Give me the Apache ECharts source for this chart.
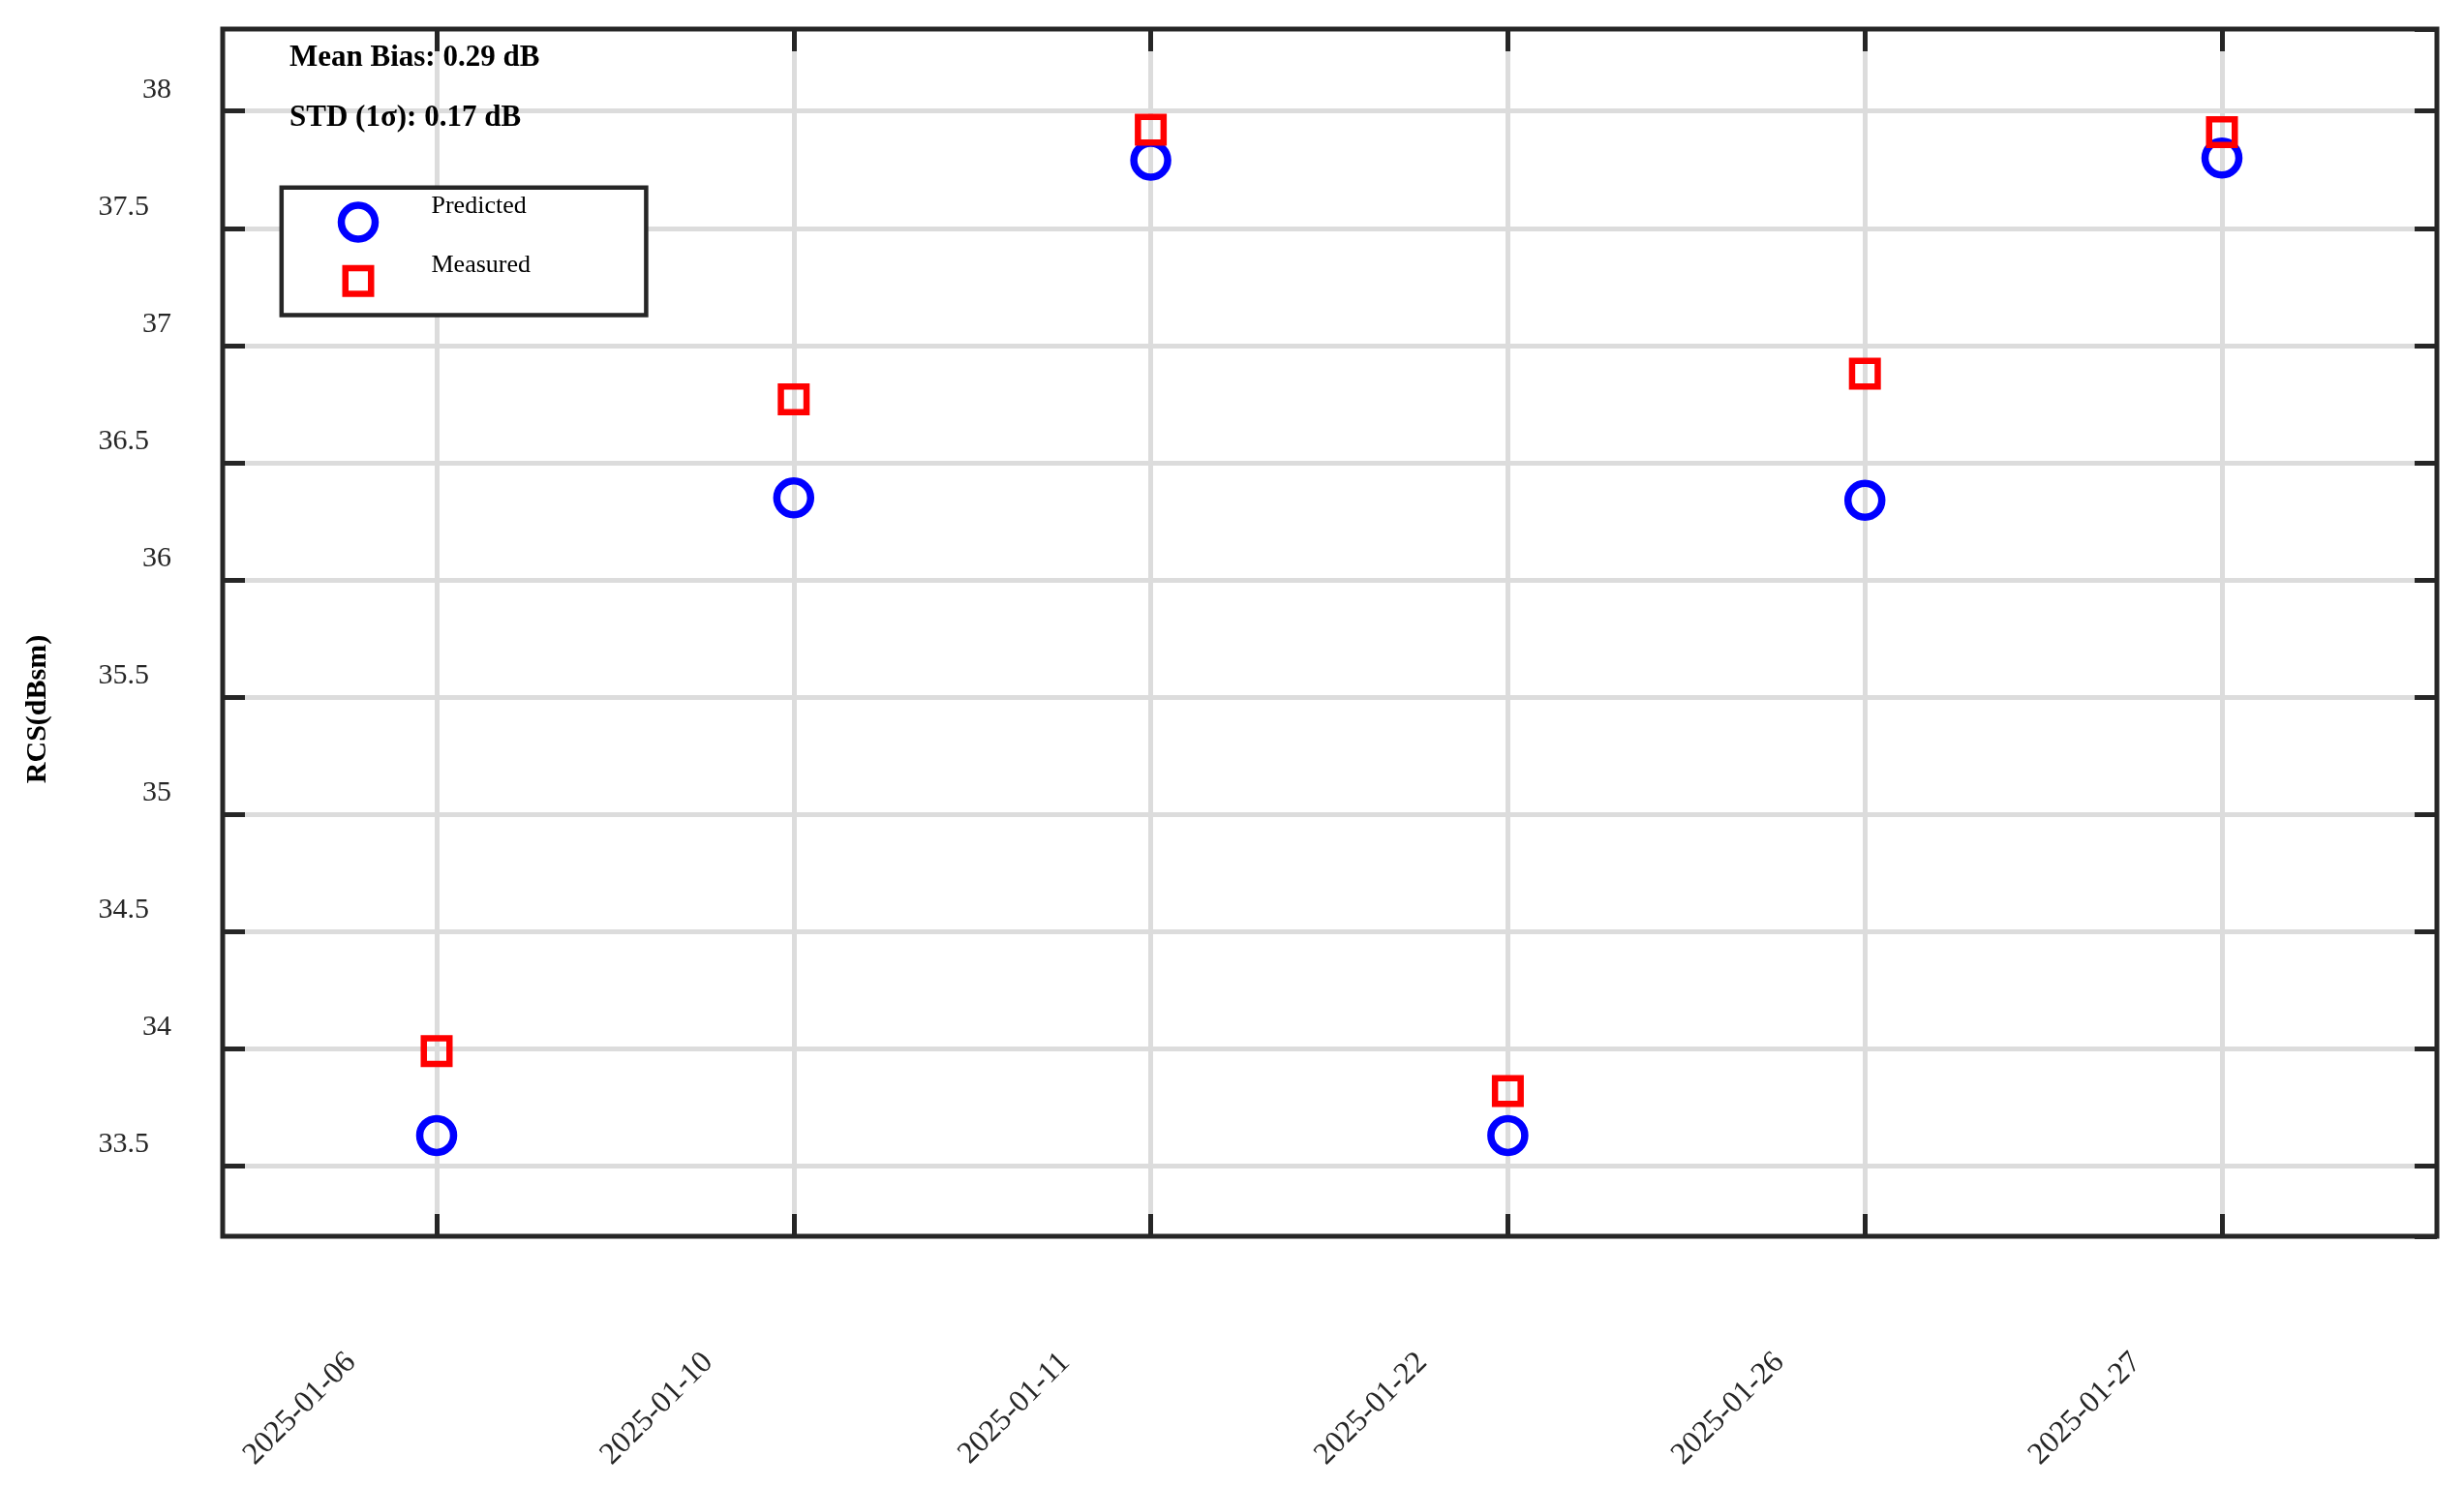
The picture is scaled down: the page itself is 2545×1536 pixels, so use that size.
<!DOCTYPE html>
<html>
<head>
<meta charset="utf-8">
<script src="https://cdn.jsdelivr.net/npm/echarts@6/dist/echarts.min.js"></script>
<style>html,body{margin:0;padding:0;background:#fff}#c{width:2545px;height:1536px}</style>
</head>
<body>
<div id="c"></div>
<script>
// ---- data ----
const categories = ['2025-01-06', '2025-01-10', '2025-01-11', '2025-01-22', '2025-01-26', '2025-01-27'];
const predicted = [33.63, 36.35, 37.79, 33.63, 36.34, 37.80];
const measured  = [33.99, 36.77, 37.92, 33.82, 36.88, 37.91];
const yAxisMin = 33.2;
const yAxisMax = 38.35;
const yAxisTitle = 'RCS(dBsm)';
const seriesNames = ['Predicted', 'Measured'];
const statLines = ['Mean Bias: 0.29 dB', 'STD (1\u03c3): 0.17 dB'];

// ---- style ----
const FONT = '"Liberation Serif", "Times New Roman", serif';
const DARK = '#262626';
const GRIDC = '#dcdcdc';

const chart = echarts.init(document.getElementById('c'), null, {renderer: 'canvas', width: 2545, height: 1536});

const tickStyle = {show: true, inside: true, length: 23, lineStyle: {color: DARK, width: 5}};

const option = {
  animation: false,
  backgroundColor: '#ffffff',
  grid: [
    {left: 230, top: 30, width: 2287, height: 1247, show: true, borderColor: DARK, borderWidth: 5, backgroundColor: 'rgba(0,0,0,0)'},
    {left: 451, top: 30, width: 1844, height: 1247}
  ],
  xAxis: [
    {gridIndex: 0, type: 'value', min: 0, max: 1, show: false},
    {gridIndex: 1, type: 'category', data: categories, boundaryGap: false, position: 'bottom',
      axisLine: {show: false},
      axisTick: Object.assign({alignWithLabel: true}, tickStyle),
      axisLabel: {interval: 0, rotate: 45, margin: 37, padding: [0, 125, 0, 0], fontFamily: FONT, fontSize: 32, color: DARK},
      splitLine: {show: true, lineStyle: {color: GRIDC, width: 5}}
    },
    {gridIndex: 1, type: 'category', data: categories, boundaryGap: false, position: 'top',
      axisLine: {show: false},
      axisTick: tickStyle,
      axisLabel: {show: false},
      splitLine: {show: false}
    }
  ],
  yAxis: [
    {gridIndex: 0, type: 'value', min: yAxisMin, max: yAxisMax, splitNumber: 10, position: 'left',
      name: yAxisTitle, nameLocation: 'middle', nameGap: 176, nameRotate: 90,
      nameTextStyle: {fontFamily: FONT, fontSize: 30, fontWeight: 'bold', color: '#000', padding: [0, 158, 0, 0]},
      axisLine: {show: false},
      axisTick: tickStyle,
      axisLabel: {
        margin: 53, showMinLabel: false, showMaxLabel: false,
        formatter: function (v) {
          const half = Math.abs(v * 2 - Math.round(v * 2)) < 1e-6 && Math.round(v * 2) % 2 !== 0;
          return (half ? '{h|' : '{i|') + v + '}';
        },
        rich: {
          i: {fontFamily: FONT, fontSize: 30, color: DARK, padding: [0, 0, 44, 0]},
          h: {fontFamily: FONT, fontSize: 30, color: DARK, padding: [0, 23, 44, 0]}
        }
      },
      splitLine: {show: true, showMinLine: false, showMaxLine: false, lineStyle: {color: GRIDC, width: 5}}
    },
    {gridIndex: 0, type: 'value', min: yAxisMin, max: yAxisMax, splitNumber: 10, position: 'right',
      axisLine: {show: false},
      axisTick: tickStyle,
      axisLabel: {show: false},
      splitLine: {show: false}
    },
    {gridIndex: 1, type: 'value', min: yAxisMin, max: yAxisMax, show: false}
  ],
  series: [
    {type: 'scatter', name: seriesNames[0], xAxisIndex: 1, yAxisIndex: 2, data: predicted,
      symbol: 'circle', symbolSize: 35, clip: false, silent: true, z: 3,
      itemStyle: {color: 'rgba(0,0,0,0)', borderColor: '#0000ff', borderWidth: 7.5, opacity: 1}},
    {type: 'scatter', name: seriesNames[1], xAxisIndex: 1, yAxisIndex: 2, data: measured,
      symbol: 'rect', symbolSize: 26.5, clip: false, silent: true, z: 4,
      itemStyle: {color: 'rgba(0,0,0,0)', borderColor: '#ff0000', borderWidth: 6.5, opacity: 1}}
  ],
  graphic: [
    {type: 'text', x: 299, y: 60, z: 20, silent: true,
      style: {text: statLines[0], font: 'bold 31px ' + FONT, fill: '#000', align: 'left', verticalAlign: 'middle'}},
    {type: 'text', x: 299, y: 122, z: 20, silent: true,
      style: {text: statLines[1], font: 'bold 31px ' + FONT, fill: '#000', align: 'left', verticalAlign: 'middle'}},
    {type: 'rect', z: 20, silent: true, shape: {x: 290.8, y: 193.8, width: 376.6, height: 131.7},
      style: {fill: '#ffffff', stroke: DARK, lineWidth: 4.5}},
    {type: 'circle', z: 21, silent: true, shape: {cx: 370, cy: 229.5, r: 17.5},
      style: {fill: 'none', stroke: '#0000ff', lineWidth: 7.5}},
    {type: 'rect', z: 21, silent: true, shape: {x: 356.75, y: 277, width: 26.5, height: 26.5},
      style: {fill: 'none', stroke: '#ff0000', lineWidth: 6.5}},
    {type: 'text', x: 445.5, y: 213, z: 21, silent: true,
      style: {text: seriesNames[0], font: '26px ' + FONT, fill: '#000', align: 'left', verticalAlign: 'middle'}},
    {type: 'text', x: 445.5, y: 274, z: 21, silent: true,
      style: {text: seriesNames[1], font: '26px ' + FONT, fill: '#000', align: 'left', verticalAlign: 'middle'}}
  ]
};
chart.setOption(option);
</script>
</body>
</html>
